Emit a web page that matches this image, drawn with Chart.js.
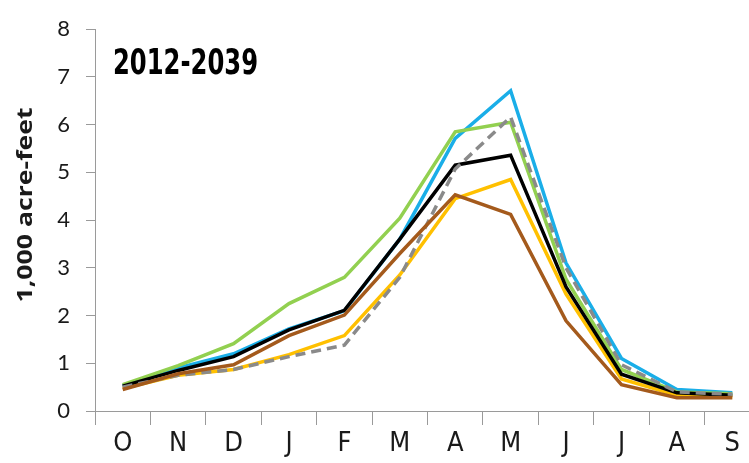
<!DOCTYPE html>
<html>
<head>
<meta charset="utf-8">
<script src="https://cdn.jsdelivr.net/npm/chart.js@4/dist/chart.umd.min.js"></script>
<style>
  html, body { margin: 0; padding: 0; background: #fff; overflow: hidden; }
  #wrap { position: relative; width: 762px; height: 463px; }
</style>
</head>
<body>
<div id="wrap"><canvas id="c"></canvas></div>
<script>
const months = ['O','N','D','J','F','M','A','M','J','J','A','S'];
const yTicks = [0,1,2,3,4,5,6,7,8];
const periodLabel = '2012-2039';
const yTitle = '1,000 acre-feet';

const blueSeries   = [0.53, 0.90, 1.20, 1.72, 2.10, 3.60, 5.71, 6.71, 3.10, 1.10, 0.45, 0.38];
const greenSeries  = [0.55, 0.95, 1.41, 2.25, 2.80, 4.04, 5.85, 6.05, 2.76, 0.87, 0.40, 0.36];
const graySeries   = [0.50, 0.75, 0.87, 1.14, 1.38, 2.80, 5.07, 6.16, 3.00, 0.97, 0.40, 0.35];
const blackSeries  = [0.52, 0.85, 1.14, 1.70, 2.11, 3.60, 5.15, 5.36, 2.60, 0.77, 0.38, 0.33];
const yellowSeries = [0.47, 0.75, 0.87, 1.18, 1.58, 2.85, 4.45, 4.85, 2.45, 0.67, 0.33, 0.30];
const brownSeries  = [0.45, 0.78, 0.97, 1.58, 2.01, 3.30, 4.53, 4.12, 1.89, 0.55, 0.28, 0.28];

const AXIS = '#9a9a9a';
const TXT = '#1a1a1a';

function line(data, color, order, dash) {
  return {
    data, borderColor: color, backgroundColor: color, borderWidth: 3.5,
    pointRadius: 0, tension: 0, fill: false, order,
    borderDash: dash || [], borderCapStyle: 'butt', borderJoinStyle: 'miter'
  };
}

function fittedText(ctx, text, x, y, targetW) {
  const w = ctx.measureText(text).width;
  const sx = targetW / w;
  ctx.save();
  ctx.translate(x, y);
  ctx.scale(sx, 1);
  ctx.fillText(text, 0, 0);
  ctx.restore();
}

const textPlugin = {
  id: 'texts',
  afterDraw(chart) {
    const ctx = chart.ctx;
    ctx.save();
    ctx.fillStyle = '#000';
    ctx.font = "bold 36px 'Liberation Sans Narrow', 'DejaVu Sans', sans-serif";
    ctx.textAlign = 'left';
    ctx.textBaseline = 'alphabetic';
    fittedText(ctx, periodLabel, 113, 74, 145);
    ctx.restore();

    ctx.save();
    ctx.translate(32, 205);
    ctx.rotate(-Math.PI / 2);
    ctx.fillStyle = TXT;
    ctx.font = "bold 22px 'Open Sans', 'Noto Sans', sans-serif";
    ctx.textAlign = 'center';
    ctx.textBaseline = 'alphabetic';
    fittedText(ctx, yTitle, 0, 0, 195);
    ctx.restore();
  }
};

new Chart(document.getElementById('c'), {
  type: 'line',
  data: {
    labels: months,
    datasets: [
      line(blueSeries, '#1aaee8', 6),
      line(greenSeries, '#92d050', 5),
      line(yellowSeries, '#ffc000', 4),
      line(blackSeries, '#000000', 3),
      line(graySeries, '#8a8a8a', 2, [10, 6]),
      line(brownSeries, '#a45a1c', 1)
    ]
  },
  options: {
    responsive: true,
    maintainAspectRatio: false,
    animation: false,
    layout: { padding: { top: 17, right: 2, left: 0, bottom: 0 } },
    plugins: { legend: { display: false }, tooltip: { enabled: false } },
    scales: {
      x: {
        type: 'category',
        offset: true,
        grid: { offset: true, drawOnChartArea: false, drawTicks: true, tickLength: 14, color: AXIS, lineWidth: 1 },
        border: { color: AXIS, width: 1 },
        ticks: { color: TXT, padding: 3, maxRotation: 0, autoSkip: false,
                 font: { family: "'Liberation Sans Narrow', 'DejaVu Sans Condensed', sans-serif", size: 27 } },
        afterFit(s) { s.height = 52; }
      },
      y: {
        min: 0, max: 8,
        afterBuildTicks(s) { s.ticks = yTicks.map(v => ({ value: v })); },
        grid: { drawOnChartArea: false, drawTicks: true, tickLength: 9, color: AXIS, lineWidth: 1 },
        border: { color: AXIS, width: 1 },
        ticks: { color: TXT, padding: 16, font: { family: "Lato, 'Open Sans', sans-serif", size: 22 } },
        afterFit(s) { s.width = 95; }
      }
    }
  },
  plugins: [textPlugin]
});
</script>
</body>
</html>
